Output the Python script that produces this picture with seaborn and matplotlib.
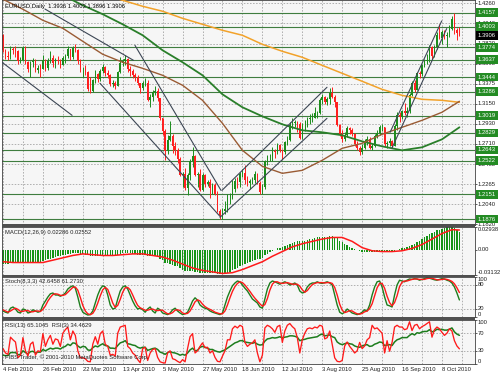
import numpy as np
import seaborn as sns
import matplotlib
matplotlib.use('Agg')
import matplotlib.pyplot as plt
from matplotlib.patches import Rectangle
from matplotlib import transforms

sns.set_style('white')
plt.rcParams['font.family'] = ['Liberation Sans', 'DejaVu Sans']
FS = 4.2

# EURUSD daily bars, 4 Feb 2010 .. 19 Oct 2010 (open of a bar = previous close)
first_open = 1.3905
closes = [1.3740, 1.3680,
          1.3665, 1.3760, 1.3745, 1.3730, 1.3625,
          1.3635, 1.3770, 1.3610, 1.3535, 1.3610,
          1.3625, 1.3520, 1.3545, 1.3535, 1.3630,
          1.3550, 1.3620, 1.3660, 1.3605, 1.3630,
          1.3625, 1.3580, 1.3660, 1.3680, 1.3755,
          1.3665, 1.3770, 1.3745, 1.3620, 1.3530,
          1.3530, 1.3500, 1.3310, 1.3290, 1.3410,
          1.3480, 1.3420, 1.3510, 1.3560, 1.3490,
          1.3470, 1.3370, 1.3375, 1.3350, 1.3500,
          1.3600, 1.3620, 1.3650, 1.3530, 1.3510,
          1.3470, 1.3450, 1.3380, 1.3320, 1.3380,
          1.3385, 1.3190, 1.3230, 1.3280, 1.3295,
          1.3210, 1.2990, 1.2850, 1.2630, 1.2750,
          1.2790, 1.2680, 1.2640, 1.2540, 1.2360,
          1.2380, 1.2220, 1.2360, 1.2520, 1.2570,
          1.2360, 1.2370, 1.2200, 1.2360, 1.2270,
          1.2290, 1.2220, 1.2250, 1.2160, 1.1970,
          1.1920, 1.1970, 1.1990, 1.2110, 1.2110,
          1.2210, 1.2300, 1.2290, 1.2380, 1.2385,
          1.2310, 1.2280, 1.2300, 1.2310, 1.2380,
          1.2280, 1.2180, 1.2230, 1.2520, 1.2570,
          1.2570, 1.2630, 1.2620, 1.2700, 1.2640,
          1.2620, 1.2730, 1.2750, 1.2920, 1.2940,
          1.2950, 1.2930, 1.2770, 1.2900, 1.2910,
          1.2980, 1.2990, 1.2990, 1.3050, 1.3050,
          1.3190, 1.3230, 1.3170, 1.3200, 1.3270,
          1.3230, 1.3170, 1.2920, 1.2820, 1.2760,
          1.2810, 1.2880, 1.2860, 1.2820, 1.2710,
          1.2660, 1.2620, 1.2660, 1.2730, 1.2760,
          1.2660, 1.2680, 1.2790, 1.2830, 1.2890,
          1.2890, 1.2710, 1.2720, 1.2740, 1.2690,
          1.2900, 1.3030, 1.3000, 1.3070, 1.3050,
          1.3070, 1.3250, 1.3380, 1.3300, 1.3490,
          1.3480, 1.3580, 1.3620, 1.3630, 1.3780,
          1.3680, 1.3780, 1.3910, 1.3880, 1.3940,
          1.3900, 1.3910, 1.3980, 1.4090, 1.3970,
          1.3936, 1.3906]
highs = [1.3925, 1.3760,
         1.3735, 1.3785, 1.3775, 1.3790, 1.3745,
         1.3665, 1.3785, 1.3790, 1.3620, 1.3625,
         1.3660, 1.3640, 1.3580, 1.3590, 1.3690,
         1.3650, 1.3660, 1.3735, 1.3690, 1.3660,
         1.3680, 1.3650, 1.3680, 1.3700, 1.3785,
         1.3760, 1.3785, 1.3815, 1.3750, 1.3640,
         1.3560, 1.3575, 1.3515, 1.3445, 1.3425,
         1.3520, 1.3495, 1.3535, 1.3590, 1.3570,
         1.3525, 1.3480, 1.3410, 1.3400, 1.3515,
         1.3665, 1.3650, 1.3690, 1.3660, 1.3565,
         1.3535, 1.3495, 1.3465, 1.3385, 1.3405,
         1.3440, 1.3410, 1.3255, 1.3305, 1.3345,
         1.3325, 1.3220, 1.2995, 1.2870, 1.2810,
         1.2960, 1.2815, 1.2730, 1.2665, 1.2560,
         1.2400, 1.2440, 1.2390, 1.2545, 1.2675,
         1.2580, 1.2395, 1.2435, 1.2390, 1.2370,
         1.2310, 1.2320, 1.2275, 1.2280, 1.2185,
         1.1990, 1.2005, 1.2080, 1.2150, 1.2165,
         1.2305, 1.2335, 1.2340, 1.2400, 1.2430,
         1.2470, 1.2350, 1.2320, 1.2340, 1.2405,
         1.2390, 1.2300, 1.2270, 1.2535, 1.2585,
         1.2595, 1.2670, 1.2655, 1.2720, 1.2710,
         1.2655, 1.2745, 1.2790, 1.2945, 1.2990,
         1.2975, 1.2965, 1.2955, 1.2940, 1.2975,
         1.3010, 1.3040, 1.3045, 1.3110, 1.3075,
         1.3210, 1.3260, 1.3240, 1.3225, 1.3325,
         1.3335, 1.3245, 1.3175, 1.2930, 1.2860,
         1.2840, 1.2905, 1.2895, 1.2885, 1.2825,
         1.2740, 1.2685, 1.2710, 1.2760, 1.2795,
         1.2780, 1.2720, 1.2815, 1.2865, 1.2920,
         1.2925, 1.2895, 1.2740, 1.2770, 1.2755,
         1.2925, 1.3060, 1.3065, 1.3085, 1.3160,
         1.3110, 1.3275, 1.3400, 1.3410, 1.3500,
         1.3515, 1.3595, 1.3650, 1.3700, 1.3800,
         1.3790, 1.3795, 1.3945, 1.4030, 1.3970,
         1.3960, 1.3945, 1.4015, 1.4120, 1.4157,
         1.3990, 1.4003]
lows = [1.3720, 1.3645,
        1.3630, 1.3650, 1.3700, 1.3665, 1.3585,
        1.3600, 1.3620, 1.3590, 1.3500, 1.3445,
        1.3560, 1.3500, 1.3490, 1.3445, 1.3530,
        1.3515, 1.3520, 1.3600, 1.3560, 1.3550,
        1.3590, 1.3550, 1.3575, 1.3605, 1.3660,
        1.3630, 1.3650, 1.3720, 1.3590, 1.3500,
        1.3450, 1.3465, 1.3290, 1.3265, 1.3285,
        1.3385, 1.3390, 1.3405, 1.3490, 1.3460,
        1.3440, 1.3350, 1.3340, 1.3315, 1.3345,
        1.3490, 1.3570, 1.3580, 1.3500, 1.3455,
        1.3440, 1.3400, 1.3360, 1.3270, 1.3305,
        1.3350, 1.3180, 1.3115, 1.3180, 1.3250,
        1.3185, 1.2975, 1.2810, 1.2525, 1.2600,
        1.2740, 1.2610, 1.2590, 1.2500, 1.2355,
        1.2235, 1.2200, 1.2145, 1.2310, 1.2450,
        1.2350, 1.2235, 1.2185, 1.2190, 1.2230,
        1.2240, 1.2110, 1.2150, 1.2140, 1.1960,
        1.1876, 1.1880, 1.1935, 1.1960, 1.2040,
        1.2100, 1.2175, 1.2225, 1.2235, 1.2340,
        1.2270, 1.2240, 1.2215, 1.2265, 1.2275,
        1.2265, 1.2155, 1.2155, 1.2210, 1.2480,
        1.2520, 1.2515, 1.2555, 1.2600, 1.2620,
        1.2540, 1.2600, 1.2700, 1.2740, 1.2875,
        1.2890, 1.2840, 1.2760, 1.2760, 1.2845,
        1.2895, 1.2930, 1.2950, 1.2990, 1.2990,
        1.3040, 1.3150, 1.3150, 1.3140, 1.3150,
        1.3210, 1.3110, 1.2910, 1.2800, 1.2730,
        1.2735, 1.2780, 1.2820, 1.2790, 1.2690,
        1.2640, 1.2590, 1.2600, 1.2650, 1.2700,
        1.2650, 1.2640, 1.2670, 1.2770, 1.2810,
        1.2850, 1.2690, 1.2660, 1.2680, 1.2660,
        1.2690, 1.2860, 1.2950, 1.2985, 1.3030,
        1.3010, 1.3050, 1.3240, 1.3285, 1.3300,
        1.3440, 1.3460, 1.3560, 1.3590, 1.3610,
        1.3650, 1.3665, 1.3760, 1.3870, 1.3810,
        1.3870, 1.3775, 1.3890, 1.3960, 1.3925,
        1.3860, 1.3896]

# moving averages, every 8 bars
brown_ma_bars = [0, 8, 16, 24, 32, 40, 48, 56, 64, 72, 80, 88, 96, 104, 112,
                 120, 128, 136, 144, 152, 160, 168, 176, 183]
brown_ma = [1.4304, 1.4194, 1.4072, 1.3984, 1.3840, 1.3697, 1.3609, 1.3542,
            1.3465, 1.3355, 1.3189, 1.2935, 1.2637, 1.2460, 1.2383, 1.2416,
            1.2527, 1.2659, 1.2714, 1.2814, 1.2891, 1.2968, 1.3057, 1.3178]
green_ma_bars = [24, 32, 40, 48, 56, 64, 72, 80, 88, 96, 104, 112, 120, 128,
                 136, 144, 152, 160, 168, 176, 183]
green_ma = [1.4348, 1.4238, 1.4139, 1.4028, 1.3907, 1.3741, 1.3609, 1.3465,
            1.3255, 1.3112, 1.3012, 1.2924, 1.2858, 1.2836, 1.2803, 1.2736,
            1.2681, 1.2637, 1.2670, 1.2758, 1.2891]
orange_ma_bars = [40, 48, 56, 64, 72, 80, 88, 96, 104, 112, 120, 128, 136,
                  144, 152, 160, 168, 176, 183]
orange_ma = [1.4359, 1.4293, 1.4227, 1.4172, 1.4094, 1.4028, 1.3962, 1.3907,
             1.3807, 1.3730, 1.3664, 1.3575, 1.3487, 1.3399, 1.3310, 1.3244,
             1.3200, 1.3189, 1.3167]

# hand drawn trend lines: start bar, start price, end bar, end price
trend_bar0 = [-0.4, 16.8, 38.9, 52.9, 87.8, 87.0, 155.2, 155.9]
trend_px0 = [1.3609, 1.4197, 1.3377, 1.3796, 1.2195, 1.1897, 1.2836, 1.2659]
trend_bar1 = [27.7, 52.3, 87.0, 87.4, 129.9, 129.9, 175.9, 177.9]
trend_px1 = [1.3023, 1.3631, 1.1908, 1.2195, 1.3333, 1.2990, 1.4065, 1.3981]

# horizontal support / resistance levels
levels = [1.4157, 1.4003, 1.3774, 1.3637, 1.3444, 1.3286, 1.3019, 1.2829,
          1.2643, 1.2522, 1.2151, 1.1876]
last_price = 1.3906

price_ticks = [1.4260, 1.4038, 1.3816, 1.3595, 1.3373, 1.3151, 1.2929, 1.2707,
               1.2485, 1.2264, 1.2042, 1.1820]
price_tick_labels = ['1.4260', '1.4040', '1.3820', '1.3595', '1.3375', '1.3150',
                     '1.2930', '1.2710', '1.2485', '1.2265', '1.2040', '1.1820']

date_bars = [0, 16, 32, 48, 64, 80, 96, 112, 128, 144, 160, 176]
date_labels = ['4 Feb 2010', '26 Feb 2010', '22 Mar 2010', '13 Apr 2010',
               '5 May 2010', '27 May 2010', '18 Jun 2010', '12 Jul 2010',
               '3 Aug 2010', '25 Aug 2010', '16 Sep 2010', '8 Oct 2010']

# MACD(12,26,9): main drawn as histogram, signal sampled every 4 bars
macd_main = [-0.018, -0.018, -0.018, -0.017, -0.017, -0.017, -0.017, -0.017,
             -0.017, -0.016, -0.016, -0.016, -0.016, -0.016, -0.015, -0.015,
             -0.014, -0.013, -0.012, -0.011, -0.010, -0.009, -0.008, -0.008,
             -0.007, -0.006, -0.005, -0.005, -0.004, -0.004, -0.004, -0.005,
             -0.005, -0.006, -0.007, -0.008, -0.008, -0.008, -0.008, -0.007,
             -0.007, -0.007, -0.007, -0.007, -0.007, -0.007, -0.006, -0.005,
             -0.004, -0.004, -0.004, -0.004, -0.005, -0.005, -0.006, -0.006,
             -0.006, -0.007, -0.008, -0.008, -0.008, -0.008, -0.009, -0.011,
             -0.013, -0.016, -0.017, -0.018, -0.019, -0.020, -0.021, -0.023,
             -0.025, -0.027, -0.027, -0.027, -0.027, -0.028, -0.028, -0.029,
             -0.029, -0.029, -0.029, -0.029, -0.029, -0.030, -0.031, -0.031,
             -0.031, -0.030, -0.029, -0.028, -0.026, -0.024, -0.023, -0.021,
             -0.019, -0.018, -0.017, -0.015, -0.014, -0.013, -0.012, -0.011,
             -0.010, -0.007, -0.005, -0.003, -0.001, 0.000, 0.002, 0.003,
             0.004, 0.005, 0.006, 0.008, 0.009, 0.010, 0.011, 0.011,
             0.012, 0.012, 0.013, 0.014, 0.014, 0.015, 0.016, 0.017,
             0.017, 0.017, 0.017, 0.018, 0.018, 0.017, 0.015, 0.012,
             0.010, 0.008, 0.006, 0.004, 0.002, 0.001, 0.000, -0.001,
             -0.002, -0.003, -0.003, -0.003, -0.003, -0.003, -0.002, -0.002,
             -0.002, -0.002, -0.002, -0.002, -0.002, -0.001, 0.000, 0.001,
             0.002, 0.003, 0.004, 0.005, 0.006, 0.008, 0.010, 0.012,
             0.014, 0.016, 0.018, 0.020, 0.022, 0.023, 0.025, 0.026,
             0.027, 0.028, 0.029, 0.0294, 0.029, 0.0275, 0.0255, 0.02286]
macd_signal_bars = [0, 4, 8, 12, 16, 20, 24, 28, 32, 36, 40, 44, 48, 52, 56, 60,
                    64, 68, 72, 76, 80, 84, 88, 92, 96, 100, 104, 108, 112, 116,
                    120, 124, 128, 132, 136, 140, 144, 148, 152, 156, 160, 164,
                    168, 172, 176, 180, 183]
macd_signal = [-0.015, -0.016, -0.016, -0.016, -0.016, -0.013, -0.010, -0.007,
               -0.005, -0.006, -0.007, -0.007, -0.006, -0.005, -0.005, -0.007,
               -0.009, -0.013, -0.018, -0.023, -0.026, -0.028, -0.030, -0.029,
               -0.025, -0.020, -0.015, -0.008, -0.002, 0.004, 0.008, 0.011,
               0.014, 0.016, 0.016, 0.011, 0.003, -0.001, -0.002, -0.002,
               -0.001, 0.002, 0.007, 0.014, 0.021, 0.026, 0.02552]

# Stochastic(8,3,3)
stoch_k = [15, 12, 10, 22, 25, 20, 12, 10, 20, 18, 10, 12, 18, 15, 12, 14,
           30, 40, 50, 58, 60, 55, 55, 52, 55, 60, 70, 75, 78, 72, 50, 25,
           12, 8, 5, 6, 15, 35, 55, 70, 78, 75, 55, 30, 20, 22, 45, 65,
           75, 78, 70, 55, 40, 28, 20, 22, 18, 12, 20, 25, 15, 10, 22, 18,
           10, 8, 6, 10, 18, 22, 15, 10, 6, 8, 12, 25, 40, 48, 42, 30,
           25, 22, 20, 15, 12, 10, 8, 6, 10, 30, 50, 65, 78, 85, 90, 88,
           80, 72, 65, 55, 45, 40, 35, 25, 22, 45, 70, 85, 90, 88, 85, 82,
           85, 88, 85, 80, 82, 85, 80, 65, 60, 62, 75, 82, 85, 85, 88, 85,
           84, 86, 88, 85, 80, 55, 30, 12, 8, 12, 20, 15, 10, 8, 6, 8,
           12, 18, 15, 30, 55, 75, 88, 90, 75, 50, 30, 28, 25, 55, 80, 92,
           90, 88, 92, 95, 94, 96, 95, 92, 94, 96, 98, 97, 95, 93, 92, 94,
           96, 95, 92, 90, 85, 75, 60, 42.65]
stoch_d = [18, 15, 12, 15, 19, 22, 19, 14, 14, 16, 16, 13, 13, 15, 15, 14,
           19, 28, 40, 49, 56, 58, 57, 54, 54, 56, 62, 68, 74, 75, 67, 49,
           29, 15, 8, 6, 9, 19, 35, 53, 68, 74, 69, 53, 35, 24, 29, 44,
           62, 73, 74, 68, 55, 41, 29, 23, 20, 17, 17, 19, 20, 17, 16, 17,
           17, 12, 8, 8, 11, 17, 18, 16, 10, 8, 9, 15, 26, 38, 43, 40,
           32, 26, 22, 19, 16, 12, 10, 8, 8, 15, 30, 48, 64, 76, 84, 88,
           86, 80, 72, 64, 55, 47, 40, 33, 27, 31, 46, 67, 82, 88, 88, 85,
           84, 85, 86, 84, 82, 82, 82, 77, 68, 62, 66, 74, 81, 84, 86, 86,
           86, 85, 86, 86, 84, 74, 55, 32, 17, 11, 13, 16, 15, 11, 8, 7,
           9, 13, 15, 21, 33, 53, 73, 84, 84, 72, 52, 36, 28, 36, 53, 76,
           87, 90, 90, 92, 94, 95, 95, 94, 94, 94, 96, 97, 97, 95, 93, 93,
           94, 95, 94, 92, 89, 83, 73, 61.27]

# RSI(13) and RSI(3)
rsi13 = [20, 19, 19, 26, 26, 26, 21, 22, 30, 26, 23, 28, 29, 25, 27, 27,
         33, 30, 33, 36, 34, 36, 36, 34, 38, 40, 45, 42, 48, 47, 41, 37,
         40, 39, 32, 31, 37, 41, 39, 43, 46, 42, 41, 36, 36, 35, 42, 48,
         50, 53, 46, 45, 43, 42, 38, 36, 38, 38, 31, 33, 35, 36, 33, 27,
         25, 22, 26, 28, 26, 25, 23, 20, 22, 20, 25, 32, 36, 30, 31, 38,
         40, 38, 36, 33, 33, 30, 28, 27, 30, 32, 36, 40, 44, 48, 50, 53,
         53, 50, 49, 48, 47, 49, 45, 43, 44, 52, 57, 58, 60, 59, 60, 62,
         59, 61, 62, 64, 64, 63, 61, 53, 55, 56, 58, 59, 60, 61, 62, 66,
         68, 64, 65, 66, 62, 60, 50, 46, 44, 46, 48, 46, 45, 41, 39, 38,
         41, 43, 44, 40, 41, 45, 47, 50, 49, 42, 43, 44, 42, 50, 55, 57,
         60, 60, 60, 65, 69, 66, 71, 70, 73, 74, 74, 78, 73, 75, 79, 78,
         79, 77, 77, 79, 82, 73, 68, 65.10]
rsi3 = [35, 25, 22, 61, 55, 50, 14, 20, 60, 30, 18, 45, 50, 20, 30, 28,
        69, 40, 55, 65, 45, 57, 55, 40, 70, 78, 84, 55, 75, 65, 30, 14,
        14, 12, 6, 5, 45, 62, 45, 69, 75, 45, 40, 20, 22, 18, 70, 84,
        86, 88, 40, 35, 25, 20, 10, 3, 35, 38, 8, 25, 33, 35, 15, 5,
        3, 2, 25, 30, 12, 10, 6, 3, 10, 5, 35, 62, 69, 25, 30, 40,
        48, 37, 38, 25, 30, 15, 6, 5, 18, 30, 55, 55, 80, 86, 82, 88,
        85, 49, 40, 45, 48, 55, 25, 5, 20, 82, 88, 85, 80, 72, 85, 88,
        49, 75, 88, 92, 85, 80, 60, 25, 55, 70, 80, 82, 80, 84, 82, 88,
        86, 57, 60, 75, 45, 14, 6, 5, 8, 41, 50, 40, 33, 25, 30, 49,
        35, 41, 55, 60, 88, 80, 82, 76, 70, 25, 53, 29, 49, 84, 88, 84,
        84, 78, 80, 96, 76, 88, 90, 80, 85, 88, 92, 96, 61, 78, 84, 80,
        72, 65, 70, 80, 75, 53, 41, 34.46]

# ---------------------------------------------------------------------------
BULL, BEAR = '#1c8c1c', '#ff1f1f'
PANE_BG = '#f6f6f6'
GRID = '#9c9c9c'
LEVEL = '#3f7d3f'
TREND = '#3c4654'
W, H = 500, 375
X_LEFT, X_RIGHT = -0.4, 189.25
grid_bars = list(range(0, 189, 8))

fig = plt.figure(figsize=(W / 100, H / 100), dpi=100, facecolor='white')


def pane(top, bottom):
    return fig.add_axes([2 / W, 1 - bottom / H, 473 / W, (bottom - top) / H])


def style(ax, lo, hi, ticks, labels, vas):
    ax.set_facecolor(PANE_BG)
    ax.set_xlim(X_LEFT, X_RIGHT)
    ax.set_ylim(lo, hi)
    ax.yaxis.tick_right()
    ax.set_yticks(ticks, labels)
    ax.tick_params(axis='y', length=1.2, width=0.5, pad=0.6, labelsize=FS,
                   colors='#202020', direction='out')
    for t, va in zip(ax.yaxis.get_major_ticks(), vas):
        t.label2.set_va(va)
    ax.set_xticks(grid_bars)
    ax.tick_params(axis='x', length=0, labelbottom=False)
    ax.grid(axis='x', color=GRID, lw=0.55, ls=(0, (2, 2)))
    for s in ax.spines.values():
        s.set_color('#404040')
        s.set_linewidth(0.6)
    ax.set_xlabel('')
    ax.set_ylabel('')


ax_p = pane(0, 224.5)
ax_m = pane(227, 274.5)
ax_s = pane(277, 317)
ax_r = pane(320, 364)
for top, bottom in [(224.5, 227), (274.5, 277), (317, 320)]:
    fig.add_artist(Rectangle((2 / W, 1 - bottom / H), 473 / W, (bottom - top) / H,
                             transform=fig.transFigure, color='#505050', lw=0))

# ---- price pane
bars = np.arange(len(closes))
c = np.array(closes)
o = np.r_[first_open, c[:-1]]
cols = np.where(c >= o, BULL, BEAR)

style(ax_p, 1.1818, 1.42964, price_ticks, price_tick_labels,
      ['center'] * len(price_ticks))
ax_p.grid(axis='y', color=GRID, lw=0.55, ls=(0, (2, 2)))
for lv in levels:
    ax_p.axhline(lv, color=LEVEL, lw=0.8, zorder=1)
ax_p.vlines(bars, lows, highs, colors=cols, lw=0.7, zorder=2)
ax_p.bar(bars, np.abs(c - o), bottom=np.minimum(o, c), width=0.62,
         color=cols, linewidth=0, zorder=2)
sns.lineplot(x=orange_ma_bars, y=orange_ma, ax=ax_p, color='#f2a22a', lw=1.1,
             legend=False, zorder=3)
sns.lineplot(x=green_ma_bars, y=green_ma, ax=ax_p, color='#2a7f2a', lw=1.3,
             legend=False, zorder=3)
sns.lineplot(x=brown_ma_bars, y=brown_ma, ax=ax_p, color='#9a5b34', lw=1.0,
             legend=False, zorder=3)
for b0, p0, b1, p1 in zip(trend_bar0, trend_px0, trend_bar1, trend_px1):
    ax_p.plot([b0, b1], [p0, p1], color=TREND, lw=0.8, zorder=3)
ax_p.set_xlim(X_LEFT, X_RIGHT)
ax_p.set_ylim(1.1818, 1.42964)

tr = transforms.blended_transform_factory(ax_p.transAxes, ax_p.transData)
for lv in levels:
    ax_p.text(1.006, lv, f'{lv:.4f}', transform=tr, ha='left', va='center',
              fontsize=FS, color='white', clip_on=False, zorder=5,
              bbox=dict(boxstyle='square,pad=0.3', fc='#238b23', ec='none'))
ax_p.text(1.006, last_price, f'{last_price:.4f}', transform=tr, ha='left',
          va='center', fontsize=FS, color='white', clip_on=False, zorder=5,
          bbox=dict(boxstyle='square,pad=0.3', fc='black', ec='none'))
ax_p.text(0.006, 0.969, 'EURUSD,Daily  1.3936 1.4003 1.3896 1.3906',
          transform=ax_p.transAxes, fontsize=FS, va='center', color='black')

# ---- MACD pane
style(ax_m, -0.03132, 0.02938, [0.02938, 0.0, -0.03132],
      ['0.02938', '0.00', '-0.03132'], ['top', 'center', 'bottom'])
ax_m.bar(bars, macd_main, width=0.55, color='#169416', linewidth=0)
sns.lineplot(x=macd_signal_bars, y=macd_signal, ax=ax_m, color='#ff1a1a',
             lw=1.1, legend=False)
ax_m.set_ylim(-0.03132, 0.02938)
ax_m.text(0.006, 0.874, 'MACD(12,26,9) 0.02286 0.02552',
          transform=ax_m.transAxes, fontsize=FS, va='center')

# ---- Stochastic pane
style(ax_s, 0, 100, [100, 80, 20, 0], ['100', '80', '20', '0'],
      ['top', 'center', 'center', 'bottom'])
for lv in (80, 20):
    ax_s.axhline(lv, color=GRID, lw=0.55, ls=(0, (2, 2)))
sns.lineplot(x=bars, y=stoch_k, ax=ax_s, color='#1d7d1d', lw=1.0, legend=False)
sns.lineplot(x=bars, y=stoch_d, ax=ax_s, color='#ff1a1a', lw=1.0, legend=False)
ax_s.set_ylim(0, 100)
ax_s.text(0.006, 0.88, 'Stoch(8,3,3) 42.6458 61.2730',
          transform=ax_s.transAxes, fontsize=FS, va='center')

# ---- RSI pane
style(ax_r, 0, 100, [100, 70, 30, 0], ['100', '70', '30', '0'],
      ['top', 'center', 'center', 'bottom'])
for lv in (70, 30):
    ax_r.axhline(lv, color=GRID, lw=0.55, ls=(0, (2, 2)))
sns.lineplot(x=bars, y=rsi13, ax=ax_r, color='#1d7d1d', lw=1.1, legend=False)
sns.lineplot(x=bars, y=rsi3, ax=ax_r, color='#ff1a1a', lw=0.95, legend=False)
ax_r.set_ylim(0, 100)
ax_r.set_xticks(date_bars, date_labels)
ax_r.set_xticks(grid_bars, minor=True)
ax_r.tick_params(axis='x', which='major', length=1.5, width=0.5, pad=0.5,
                 labelsize=FS, labelbottom=True, colors='#202020')
ax_r.tick_params(axis='x', which='minor', length=0)
ax_r.grid(axis='x', which='both', color=GRID, lw=0.55, ls=(0, (2, 2)))
for lab in ax_r.get_xticklabels():
    lab.set_ha('left')
ax_r.text(0.006, 0.864, 'RSI(13) 65.1045  RSI(3) 34.4629',
          transform=ax_r.transAxes, fontsize=FS, va='center')
ax_r.text(0.006, 0.16, 'FIBS Trader, \u00a9 2001-2010 MetaQuotes Software Corp.',
          transform=ax_r.transAxes, fontsize=FS, va='center', color='#202020')
ax_r.set_xlim(X_LEFT, X_RIGHT)

fig.savefig('out.png', dpi=100, facecolor='white')
